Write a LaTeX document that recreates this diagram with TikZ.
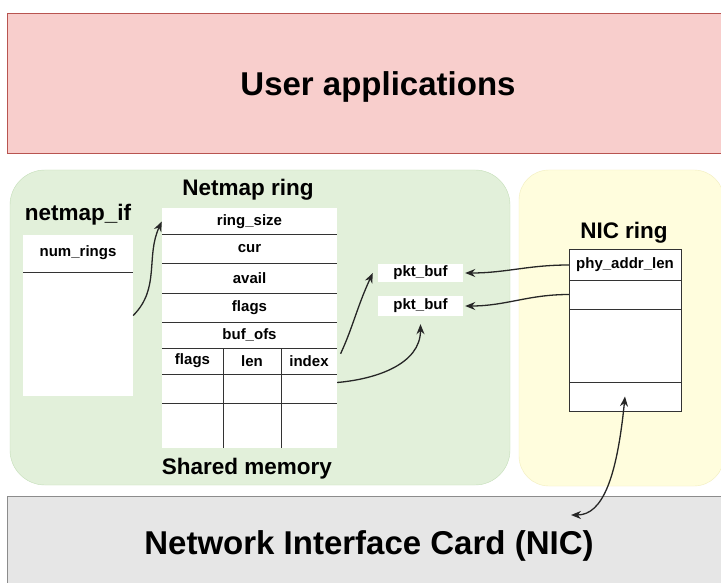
\documentclass[tikz,border=0pt]{standalone}
\usepackage{fontspec}
\setmainfont{Liberation Sans}
\usetikzlibrary{arrows.meta}

\definecolor{appfill}{RGB}{248,206,204}
\definecolor{appline}{RGB}{184,84,80}
\definecolor{shmfill}{RGB}{226,240,218}
\definecolor{shmline}{RGB}{196,222,184}
\definecolor{ringfill}{RGB}{255,253,221}
\definecolor{ringline}{RGB}{242,238,190}
\definecolor{nicfill}{RGB}{230,230,230}
\definecolor{nicline}{RGB}{140,140,140}

\begin{document}
\begin{tikzpicture}[x=1pt, y=1pt, every node/.style={inner sep=0pt,
                font=\bfseries\fontsize{15}{18}\selectfont},
            head/.style={font=\bfseries\fontsize{22.5}{27}\selectfont},
            banner/.style={font=\bfseries\fontsize{33}{40}\selectfont},
            row/.style={minimum width=175, minimum height=27},
            rule/.style={draw=black!80, line width=1pt},
            link/.style={draw=black!85, line width=1.3pt,
                -{Stealth[length=10pt,width=8pt]}}]
            \clip (0,0) rectangle (721,-583);
            \fill[white] (0,0) rectangle (721,-583);

            \draw[appline, fill=appfill, line width=1pt] (7,-14) rectangle (730,-154);
            \draw[nicline, fill=nicfill, line width=1pt] (7,-496) rectangle (730,-600);
            \draw[shmline, fill=shmfill, rounded corners=35] (10,-170) rectangle (510,-485);
            \draw[ringline, fill=ringfill, rounded corners=30] (519,-170) rectangle (724,-486);

            \node[banner] (apps) at (378,-87) {User applications};
            \node[banner] (nic) at (369,-546) {Network Interface Card (NIC)};
            \node[head] (shm) at (247,-469) {Shared memory};
            \node[head] (ringtitle) at (248,-190) {Netmap ring};
            \node[head] (iftitle) at (78,-215) {netmap\_if};
            \node[head] (nictitle) at (624,-233) {NIC ring};

            % netmap_if
            \node[fill=white, minimum width=110, minimum height=161] (netif) at (78,-315.5) {};
            \node (numrings) at (78,-253) {num\_rings};
            \draw[rule] (23,-272) -- (133,-272);

            % netmap ring
            \node[fill=white, minimum width=175, minimum height=240] (ring) at (249.5,-328) {};
            \node[row] (rsize) at (249.5,-221.5) {ring\_size};
            \node[row] (cur) at (249.5,-249) {cur};
            \node[row] (avail) at (249.5,-278) {avail};
            \node[row] (rflags) at (249.5,-307.5) {flags};
            \node[row] (bufofs) at (249.5,-335) {buf\_ofs};
            \node[minimum width=61, minimum height=26] (cflags) at (192.5,-361) {flags};
            \node[minimum width=58, minimum height=26] (clen) at (252,-361) {len};
            \node[minimum width=56, minimum height=26] (cidx) at (309,-361) {index};
            \node[minimum width=56, minimum height=29] (cidxb) at (309,-388.5) {};
            \foreach \y in {235, 263, 293, 322, 348, 374, 403} {
                    \draw[rule] (162,-\y) -- (337,-\y);
                }
            \foreach \x in {223, 281} {
                    \draw[rule] (\x,-348) -- (\x,-448);
                }

            % NIC ring
            \node[rule, fill=white, minimum width=112, minimum height=161] (nicring) at (625,-330.5) {};
            \node[minimum width=112, minimum height=30] (phy) at (625,-265) {phy\_addr\_len};
            \node[minimum width=112, minimum height=29] (nrow2) at (625,-294.5) {};
            \node[minimum width=112, minimum height=29] (nrowb) at (625,-396.5) {};
            \foreach \y in {280, 309, 382} {
                    \draw[rule] (569,-\y) -- (681,-\y);
                }

            \node[fill=white, minimum width=85, minimum height=18] (pkt1) at (420.5,-273) {pkt\_buf};
            \node[fill=white, minimum width=85, minimum height=20] (pkt2) at (420.5,-306) {pkt\_buf};

            \draw[link] (netif.east) to[out=45, in=-115] (rsize.west);
            \draw[link, shorten <=8pt] (cidx.east) to[out=65, in=-115] ([xshift=-5]pkt1.west);
            \draw[link] ([yshift=6]cidxb.east) to[out=5, in=-90] ([yshift=-8]pkt2.south);
            \foreach \i/\j in {phy/pkt1, nrow2/pkt2} {
                    \draw[link] (\i.west) to[out=180, in=0] ([xshift=2]\j.east);
                }
            \coordinate (niclink) at (571,-515);
            \draw[link, {Stealth[length=10pt,width=8pt]}-{Stealth[length=10pt,width=8pt]}]
                (niclink) .. controls +(32,0) and +(-8,-80) .. (nrowb.center);
        \end{tikzpicture}
\end{document}
